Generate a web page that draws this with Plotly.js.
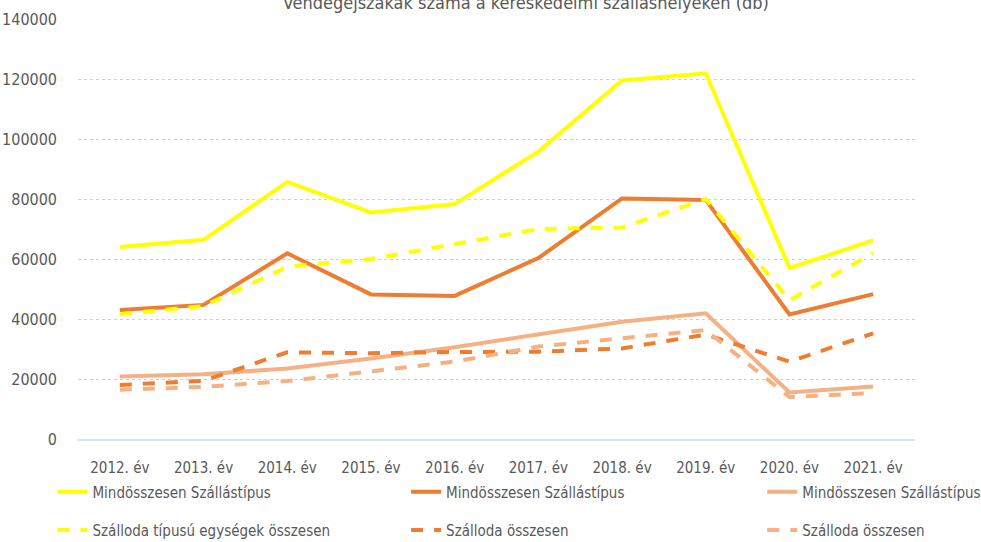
<!DOCTYPE html>
<html>
<head>
<meta charset="utf-8">
<script src="https://cdn.plot.ly/plotly-3.0.1.min.js"></script>
<style>html,body{margin:0;padding:0;background:#fff}#chart{width:981px;height:542px}</style>
</head>
<body>
<div id="chart"></div>
<script>
const years = ["2012. év","2013. év","2014. év","2015. év","2016. év","2017. év","2018. év","2019. év","2020. év","2021. év"];
const yellowTotal = [64000, 66400, 85700, 75500, 78300, 95800, 119500, 121900, 57000, 66200];
const orangeTotal = [43000, 44700, 61900, 48200, 47700, 60300, 80200, 79700, 41500, 48300];
const lightTotal  = [20800, 21600, 23500, 26800, 30600, 34800, 39100, 41900, 15500, 17500];
const yellowHotel = [41600, 44300, 57400, 60000, 65000, 70000, 70500, 80000, 46300, 62000];
const orangeHotel = [18000, 19400, 28900, 28600, 29000, 29100, 30200, 34800, 25800, 35200];
const lightHotel  = [16400, 17400, 19300, 22600, 25800, 30800, 33600, 36300, 14000, 15300];
const names = ["Mindösszesen Szállástípus","Mindösszesen Szállástípus","Mindösszesen Szállástípus",
               "Szálloda típusú egységek összesen","Szálloda összesen","Szálloda összesen"];
const tickVals = [0,20000,40000,60000,80000,100000,120000,140000];
const title = "Vendégéjszakák száma a kereskedelmi szálláshelyeken (db)";

const FONT = "DejaVu Sans Condensed, DejaVu Sans, sans-serif";
const YEL = "#FFFF00", ORG = "#ED7D31", LIG = "#F4B183";
const dash = "12px,11px";
const TXT = "#595959";
function f(size) { return {family: FONT, size: size, color: TXT, stretch: "condensed"}; }

const legendIds = ["legend","legend2","legend3","legend4","legend5","legend6"];
function tr(y, i, color, d) {
  return {x: years, y: y, name: names[i], type: "scatter", mode: "lines",
    line: {color: color, width: 4, dash: d}, legend: legendIds[i]};
}
const data = [
  tr(yellowTotal, 0, YEL, "solid"),
  tr(orangeTotal, 1, ORG, "solid"),
  tr(lightTotal,  2, LIG, "solid"),
  tr(yellowHotel, 3, YEL, dash),
  tr(orangeHotel, 4, ORG, dash),
  tr(lightHotel,  5, LIG, dash)
];

const colX = [-0.0305, 0.392, 0.8175];
const rowY = [-0.126, -0.217];
const layout = {
  width: 981, height: 542,
  margin: {l: 78, r: 66, t: 19, b: 103, autoexpand: false},
  paper_bgcolor: "#fff", plot_bgcolor: "#fff",
  font: f(15),
  title: {text: title, x: 0.536, xref: "container", y: 0.995, yref: "container", yanchor: "middle",
    font: f(18)},
  xaxis: {type: "category", range: [-0.5, 9.5], showgrid: false, zeroline: false, showline: true,
    linecolor: "#D9E1F2", linewidth: 2, ticks: "", ticklabelstandoff: 14,
    tickfont: f(15), fixedrange: true},
  yaxis: {range: [0, 140000], tickvals: tickVals, ticktext: tickVals.map(String),
    showgrid: true, gridcolor: "#D0D0D0", griddash: "dot", gridwidth: 1,
    zeroline: false, showline: false, ticks: "", ticklabelstandoff: 20,
    tickfont: f(16), fixedrange: true},
  showlegend: true
};
legendIds.forEach((id, i) => {
  layout[id] = {orientation: "h", xanchor: "left", yanchor: "middle",
    x: colX[i % 3], y: rowY[Math.floor(i / 3)], font: f(15), bgcolor: "rgba(0,0,0,0)"};
});
Plotly.newPlot("chart", data, layout, {displayModeBar: false, staticPlot: true});
</script>
</body>
</html>
